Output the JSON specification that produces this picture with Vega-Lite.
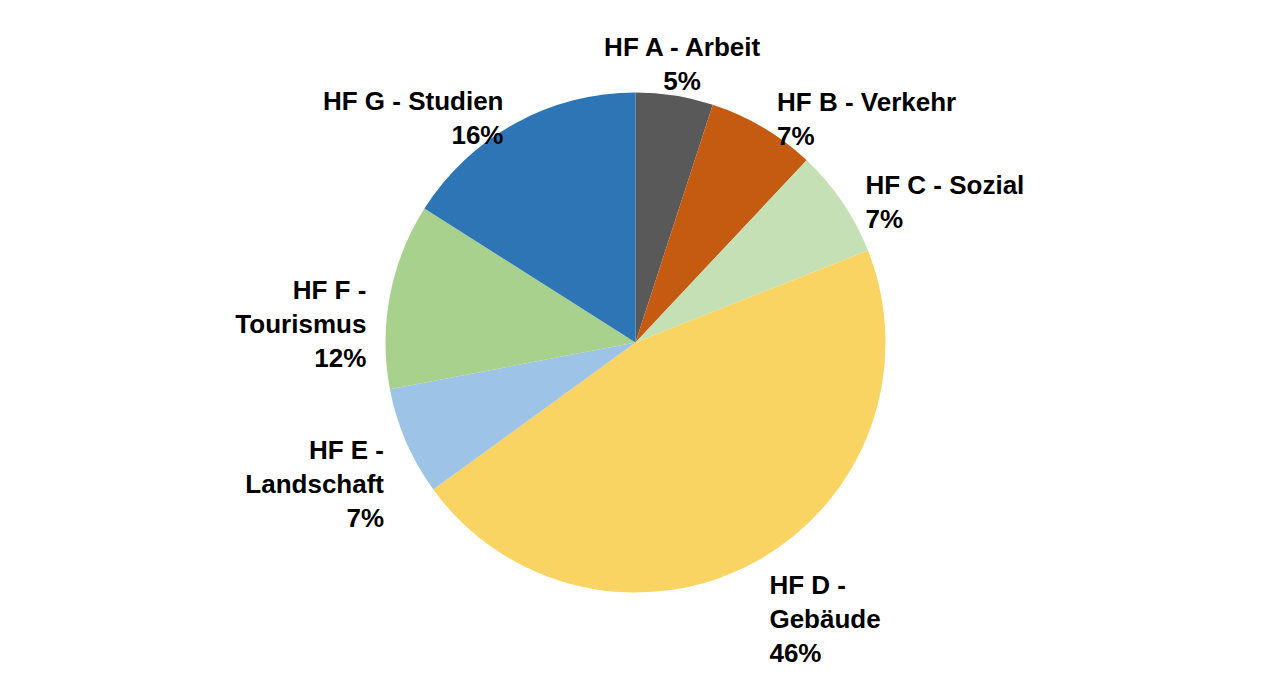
{
  "$schema": "https://vega.github.io/schema/vega-lite/v6.json",
  "autosize": {"type": "fit", "contains": "padding"},
  "width": 1271,
  "height": 685,
  "background": "white",
  "view": {"stroke": null},
  "data": {
    "values": [
      {"cat": "HF A - Arbeit", "label": "HF A - Arbeit\n5%", "pct": 5, "ord": 1},
      {"cat": "HF B - Verkehr", "label": "HF B - Verkehr\n7%", "pct": 7, "ord": 2},
      {"cat": "HF C - Sozial", "label": "HF C - Sozial\n7%", "pct": 7, "ord": 3},
      {"cat": "HF D - Gebäude", "label": "HF D -\nGebäude\n46%", "pct": 46, "ord": 4},
      {"cat": "HF E - Landschaft", "label": "HF E -\nLandschaft\n7%", "pct": 7, "ord": 5},
      {"cat": "HF F - Tourismus", "label": "HF F -\nTourismus\n12%", "pct": 12, "ord": 6},
      {"cat": "HF G - Studien", "label": "HF G - Studien\n16%", "pct": 16, "ord": 7}
    ]
  },
  "encoding": {
    "theta": {"field": "pct", "type": "quantitative", "stack": true},
    "order": {"field": "ord", "type": "quantitative"}
  },
  "layer": [
    {
      "mark": {"type": "arc", "outerRadius": 250},
      "encoding": {
        "color": {
          "field": "cat",
          "type": "nominal",
          "legend": null,
          "scale": {
            "domain": ["HF A - Arbeit", "HF B - Verkehr", "HF C - Sozial", "HF D - Gebäude", "HF E - Landschaft", "HF F - Tourismus", "HF G - Studien"],
            "range": ["#595959", "#C55A11", "#C5E0B4", "#F9D462", "#9DC3E6", "#A9D18E", "#2E75B6"]
          }
        }
      }
    },
    {
      "mark": {
        "type": "text", "radius": 298, "lineBreak": "\n",
        "font": "Liberation Sans", "fontWeight": "bold", "fontSize": 26, "lineHeight": 34,
        "align": "center", "baseline": "middle", "color": "black"
      },
      "encoding": {
        "text": {"condition": {"test": "datum.ord == 1", "field": "label"}, "value": ""}
      }
    },
    {
      "mark": {
        "type": "text", "radius": 278, "lineBreak": "\n",
        "font": "Liberation Sans", "fontWeight": "bold", "fontSize": 26, "lineHeight": 34,
        "align": "left", "baseline": "middle", "color": "black"
      },
      "encoding": {
        "text": {"condition": {"test": "datum.ord >= 2 && datum.ord <= 4", "field": "label"}, "value": ""}
      }
    },
    {
      "mark": {
        "type": "text", "radius": 274, "lineBreak": "\n",
        "font": "Liberation Sans", "fontWeight": "bold", "fontSize": 26, "lineHeight": 34,
        "align": "right", "baseline": "middle", "color": "black"
      },
      "encoding": {
        "text": {"condition": {"test": "datum.ord >= 5", "field": "label"}, "value": ""}
      }
    }
  ]
}
